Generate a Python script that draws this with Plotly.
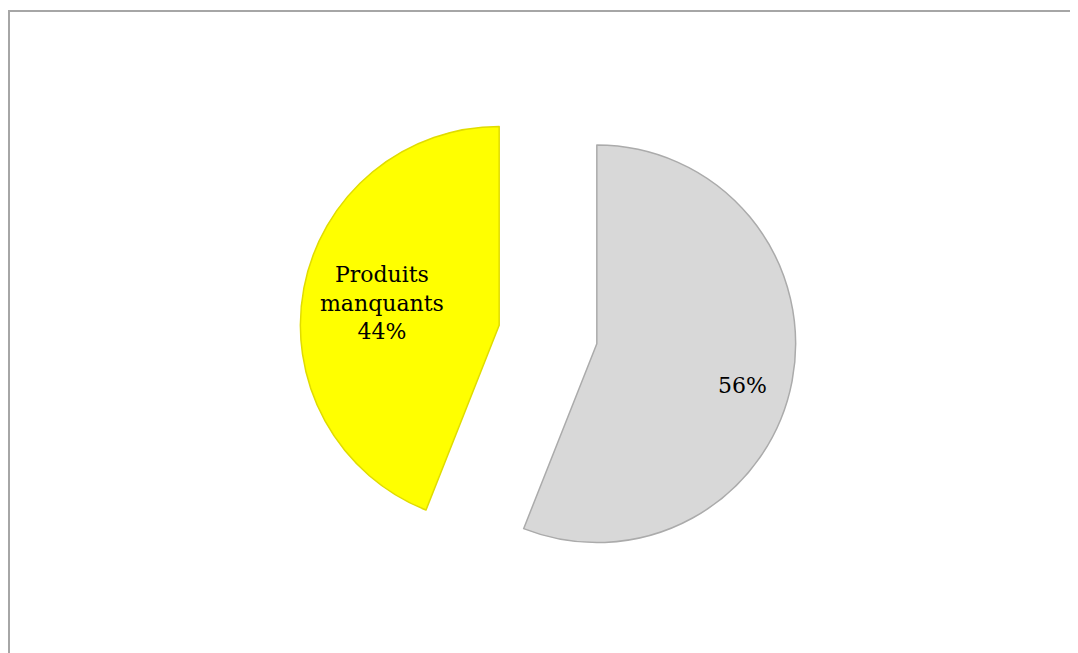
import math
import plotly.graph_objects as go

# données du graphique
labels = ["Produits manquants", "Autres produits"]
values = [44, 56]
slice_text = ["Produits<br>manquants<br>44%", "56%"]
colors = ["#FFFF00", "#D8D8D8"]
edge_colors = ["#E0DC00", "#ABABAB"]

W, H = 1078, 653
M_L, M_R, M_T, M_B = 20, 18, 78, 78
PULL = 0.25
label_r = [0.6, 0.76]  # position radiale des étiquettes (fraction du rayon)
label_dphi = [0, -4]  # petit décalage angulaire (degrés)

total = sum(values)

fig = go.Figure()
fig.add_trace(go.Pie(
    labels=labels,
    values=values,
    textinfo="none",
    sort=False,
    direction="counterclockwise",
    # la 1re part doit finir à midi, côté gauche
    rotation=-360 * values[0] / total,
    pull=[PULL, PULL],
    marker=dict(colors=colors, line=dict(color=edge_colors, width=1.5)),
    showlegend=False,
    hoverinfo="label+percent",
))

# étiquettes placées à partir des valeurs (angle médian de chaque part, sens anti-horaire depuis midi)
plot_w = W - M_L - M_R
plot_h = H - M_T - M_B
r = min(plot_w, plot_h) / 2 / (1 + PULL)
start = 0
for i, v in enumerate(values):
    mid = (start + v / 2) / total * 360
    start += v
    phi = math.radians(mid + label_dphi[i])
    dist = (PULL + label_r[i]) * r
    dx = -math.sin(phi) * dist
    dy = math.cos(phi) * dist
    fig.add_annotation(x=0.5 + dx / plot_w, y=0.5 + dy / plot_h,
                       xref="paper", yref="paper", text=slice_text[i],
                       showarrow=False, xanchor="center", yanchor="middle",
                       font=dict(family="DejaVu Serif", size=22, color="black"))

# cadre gris autour du graphique
fig.add_shape(type="rect", xref="paper", yref="paper",
              x0=(1 - M_L) / plot_w, x1=1.1,
              y0=-0.3, y1=1 + (M_T - 3) / plot_h,
              line=dict(color="#A6A6A6", width=2), fillcolor="rgba(0,0,0,0)")

fig.update_layout(
    width=W, height=H,
    margin=dict(l=M_L, r=M_R, t=M_T, b=M_B),
    paper_bgcolor="white",
    plot_bgcolor="white",
    font=dict(family="DejaVu Serif"),
)

fig.write_html("out.html")
